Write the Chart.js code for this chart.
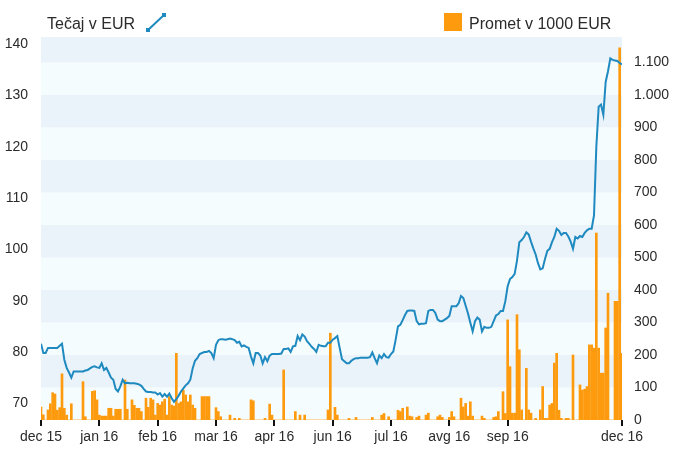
<!DOCTYPE html>
<html><head><meta charset="utf-8">
<script src="https://cdn.jsdelivr.net/npm/chart.js@4/dist/chart.umd.min.js"></script>
<style>
body{margin:0;background:#fff;}
#wrap{position:relative;width:687px;height:458px;font-family:"Liberation Sans",Arial,sans-serif;color:#2b2b2b;}
canvas{position:absolute;left:0;top:0;}
.lg{position:absolute;font-size:16px;line-height:18px;white-space:nowrap;}
</style></head><body>
<div id="wrap">
<canvas id="c" width="687" height="458"></canvas>
<div class="lg" style="left:47px;top:15px">Tečaj v EUR</div>
<svg style="position:absolute;left:145px;top:13px" width="22" height="22">
<line x1="3" y1="17" x2="19" y2="2" stroke="#1f8ac0" stroke-width="2"/>
<rect x="1" y="15" width="4" height="4" fill="#1f8ac0"/>
<rect x="17" y="0" width="4" height="4" fill="#1f8ac0"/>
</svg>
<div style="position:absolute;left:444px;top:13px;width:18px;height:18px;background:#fd9a0e"></div>
<div class="lg" style="left:469px;top:15px">Promet v 1000 EUR</div>
</div>
<script>
const tickPositions = [0,25,50,75,100,125,150,175,200,249];
const tickLabels = ['dec 15','jan 16','feb 16','mar 16','apr 16','jun 16','jul 16','avg 16','sep 16','dec 16'];
const leftTicks = [70,80,90,100,110,120,130,140];
const rightTicks = [0,100,200,300,400,500,600,700,800,900,1000,1100];

const tecaj = [
81.6,79.8,79.8,80.8,80.8,80.8,80.8,80.8,81.2,81.6,
78.5,76.9,76.0,75.0,76.2,76.2,76.2,76.2,76.2,76.4,
76.5,76.8,77.1,77.2,77.0,76.9,77.8,76.5,76.9,76.0,
75.0,74.6,72.8,72.3,73.3,74.6,73.9,74.0,73.9,73.9,
73.9,73.8,73.7,73.4,72.8,72.3,72.2,72.2,72.1,72.1,
71.7,72.0,71.3,71.8,71.3,71.9,71.0,70.3,70.8,71.5,
72.3,72.9,73.5,73.9,74.6,76.8,78.3,78.8,79.6,79.8,
80.0,80.0,80.2,79.8,78.8,81.4,82.3,82.5,82.5,82.4,
82.5,82.6,82.5,82.3,81.8,82.0,81.1,81.3,81.0,80.8,
79.1,77.8,79.8,79.8,79.3,77.8,79.0,78.2,79.3,79.6,
79.6,79.6,79.6,79.7,80.6,80.6,80.7,80.0,81.1,81.2,
83.1,82.3,83.4,83.0,82.1,81.6,81.0,80.6,80.0,81.4,
81.2,81.1,81.1,81.8,81.8,82.4,82.7,83.1,80.8,78.6,
78.2,77.8,77.8,78.3,78.6,78.8,78.8,78.9,78.9,78.9,
78.9,79.0,79.9,78.8,77.8,79.3,78.8,79.6,79.0,78.9,
79.6,80.1,82.4,85.0,85.3,86.2,87.2,88.0,88.1,88.1,
88.0,86.0,85.4,85.5,85.5,85.6,88.0,88.2,88.2,87.6,
86.3,86.0,86.0,86.3,86.6,87.0,88.9,88.9,88.9,89.5,
90.9,90.5,89.0,87.5,85.7,84.0,86.0,86.7,86.3,84.0,
84.9,84.7,84.7,84.9,86.0,87.1,87.4,88.0,88.0,89.9,
92.8,94.2,94.6,95.2,97.8,101.4,101.8,102.4,103.3,102.9,
101.5,100.2,99.0,97.3,96.1,96.3,98.1,99.7,100.1,101.4,
102.4,104.0,103.6,102.8,103.2,103.2,102.5,101.5,100.1,102.4,
102.1,102.6,102.4,103.2,103.7,104.0,104.0,106.6,120.0,127.8,
128.2,126.2,132.6,134.7,137.2,136.9,136.8,136.7,136.3,136.0
];

const promet = [
40,16,0,31,50,84,80,30,38,142,
36,15,0,50,0,0,0,0,118,10,
0,0,88,90,62,15,12,12,12,36,
36,12,33,33,33,0,123,33,0,62,
45,36,36,26,0,67,39,67,62,15,
51,46,56,64,15,72,46,43,205,51,
56,92,77,56,77,46,36,0,0,72,
72,72,72,0,0,38,26,10,0,0,
0,15,0,5,0,5,0,0,0,0,
62,59,0,0,0,0,5,0,49,15,
0,0,0,0,154,0,0,0,0,26,
0,15,0,15,0,0,0,0,0,0,
0,0,0,31,267,0,39,15,0,0,
0,0,5,0,0,8,0,0,0,0,
0,0,8,0,0,0,15,20,0,10,
0,0,0,30,26,36,0,40,12,10,
0,8,12,0,0,15,21,0,0,0,
10,15,8,0,0,8,26,10,0,0,
67,40,51,12,56,12,0,0,0,12,
5,0,0,0,8,10,26,0,87,20,
308,164,21,21,324,216,31,0,159,31,
21,0,5,0,31,103,5,5,46,51,
175,205,30,5,0,5,5,0,200,0,
0,108,92,95,103,231,231,221,575,221,
144,144,283,390,0,0,365,365,1145,205
];

const FONT = '"Liberation Sans", Arial, sans-serif';
const TXT = '#2b2b2b';

const bands = {
  id: 'bands',
  beforeDraw(chart) {
    const {ctx, chartArea: a, scales} = chart;
    const y1 = scales.y1;
    ctx.save();
    for (let k = 0; k < 12; k++) {
      const top = Math.max(a.top, y1.getPixelForValue((k + 1) * 100));
      const bot = y1.getPixelForValue(k * 100);
      ctx.fillStyle = (k % 2) ? '#eaf2fa' : '#f5fcfe';
      ctx.fillRect(a.left, top, a.right - a.left, bot - top);
    }
    ctx.restore();
  }
};

new Chart(document.getElementById('c'), {
  type: 'bar',
  data: {
    datasets: [
      {
        type: 'line',
        label: 'Tečaj v EUR',
        data: tecaj.map((v, i) => ({x: i, y: v})),
        yAxisID: 'y',
        borderColor: '#1f8ac0',
        borderWidth: 2,
        pointRadius: 0,
        tension: 0,
        order: 0
      },
      {
        type: 'bar',
        label: 'Promet v 1000 EUR',
        data: promet.map((v, i) => ({x: i, y: v})),
        yAxisID: 'y1',
        backgroundColor: '#fd9a0e',
        barThickness: 2,
        order: 1
      }
    ]
  },
  options: {
    responsive: false,
    animation: false,
    devicePixelRatio: 1,
    layout: {padding: {top: 37, left: 0, right: 0, bottom: 0}},
    plugins: {legend: {display: false}, tooltip: {enabled: false}},
    scales: {
      x: {
        type: 'linear', min: 0, max: 249, offset: false,
        afterBuildTicks: s => { s.ticks = tickPositions.map(v => ({value: v})); },
        afterFit: s => { s.height = 38; },
        ticks: {
          autoSkip: false, maxRotation: 0, color: TXT, padding: 3,
          font: {size: 14, family: FONT},
          callback: (v, idx) => tickLabels[idx]
        },
        grid: {offset: false, drawOnChartArea: false, drawTicks: true, tickLength: 6, color: '#111', lineWidth: 2},
        border: {display: false}
      },
      y: {
        position: 'left', min: 66.75, max: 141.36,
        afterBuildTicks: s => { s.ticks = leftTicks.map(v => ({value: v})); },
        afterFit: s => { s.width = 41; },
        ticks: {color: TXT, padding: 5, font: {size: 14, family: FONT}},
        grid: {display: false},
        border: {display: false}
      },
      y1: {
        position: 'right', min: 0, max: 1178,
        afterBuildTicks: s => { s.ticks = rightTicks.map(v => ({value: v})); },
        afterFit: s => { s.width = 65; },
        ticks: {
          color: TXT, padding: 4, font: {size: 14, family: FONT},
          callback: v => String(v).replace(/\B(?=(\d{3})+(?!\d))/g, '.')
        },
        grid: {display: false},
        border: {display: false}
      }
    }
  },
  plugins: [bands]
});
</script>
</body></html>
